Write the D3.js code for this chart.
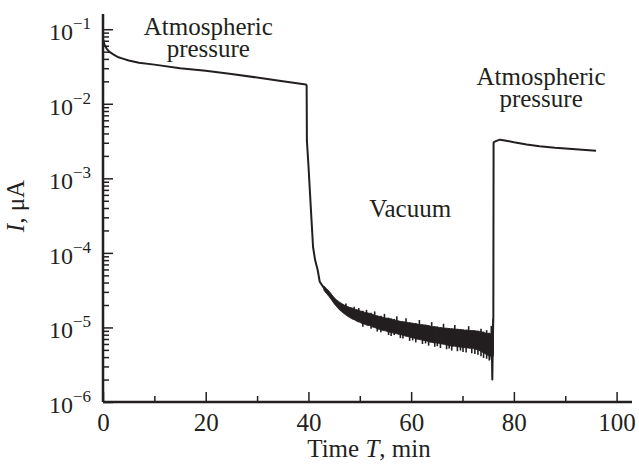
<!DOCTYPE html>
<html>
<head>
<meta charset="utf-8">
<script src="https://cdn.jsdelivr.net/npm/d3@7"></script>
<style>
  body { margin: 0; background: #fff; }
  text { font-family: "Liberation Serif", "Times New Roman", serif; fill: #231f20; }
</style>
</head>
<body>
<svg id="chart" width="639" height="464"></svg>
<script>

// main trace: time (min) and current (uA)
const time_main = [0, 0.3, 0.7, 1.2, 2, 3, 4, 5, 7, 10, 15, 20, 25, 30, 35, 39.5, 39.65,
                   39.7, 40.0, 40.3, 40.6, 40.9, 41.3, 41.8, 42.2, 43,
                   44, 46, 48, 50, 52, 54, 56, 58, 60, 62, 64, 66, 68, 70, 72, 74, 75.7,
                   75.8, 75.9, 76.0, 76.05, 76.1, 76.5, 77.3, 78.5, 80, 82.5, 85, 88, 92, 96];
const current_main = [0.074, 0.062, 0.055, 0.050, 0.046, 0.042, 0.040, 0.038, 0.0355, 0.0335, 0.030, 0.0278, 0.025, 0.0225, 0.020, 0.0182, 0.0176,
                      0.0032, 1.5e-3, 6.4e-4, 2.75e-4, 1.2e-4, 8.0e-5, 5.9e-5, 4.1e-5, 3.4e-5,
                      28.5e-6, 19.6e-6, 16.0e-6, 14.0e-6, 12.8e-6, 11.5e-6, 10.6e-6, 9.8e-6, 9.2e-6, 8.6e-6, 8.1e-6, 7.7e-6, 7.35e-6, 7.1e-6, 6.9e-6, 6.3e-6, 5.85e-6,
                      2.0e-6, 6.0e-6, 1.4e-5, 3.0e-3, 3.05e-3, 3.15e-3, 3.3e-3, 3.2e-3, 3.05e-3, 2.85e-3, 2.7e-3, 2.57e-3, 2.45e-3, 2.35e-3];

// noisy band in vacuum (upper / lower envelope, in 1e-6 uA)
const time_noise = [43, 43.5, 44, 44.5, 45, 45.5, 46, 46.5, 47, 47.5, 48, 48.5, 49, 49.5, 50, 50.5,
                    51, 51.5, 52, 52.5, 53, 53.5, 54, 54.5, 55, 55.5, 56, 56.5, 57, 57.5, 58, 58.5,
                    59, 59.5, 60, 60.5, 61, 61.5, 62, 62.5, 63, 63.5, 64, 64.5, 65, 65.5, 66, 66.5,
                    67, 67.5, 68, 68.5, 69, 69.5, 70, 70.5, 71, 71.5, 72, 72.5, 73, 73.5, 74, 74.5,
                    75, 75.5, 76];
const noise_hi = [36.0, 33.3, 30.8, 27.8, 25.2, 23.4, 22.0, 20.9, 20.0, 19.3, 18.6, 18.3, 17.6, 17.3, 16.7, 16.4,
                  15.9, 15.7, 15.4, 15.0, 14.5, 14.2, 14.0, 13.7, 13.4, 13.3, 13.0, 12.8, 12.5, 12.3, 12.0, 11.9,
                  11.8, 11.6, 11.5, 11.3, 11.2, 11.0, 10.9, 10.8, 10.7, 10.5, 10.3, 10.2, 10.1, 10.0, 9.9, 9.8,
                  9.7, 9.6, 9.6, 9.5, 9.4, 9.4, 9.3, 9.2, 9.2, 9.1, 9.1, 9.0, 8.9, 8.8, 8.6, 8.4,
                  8.3, 8.2, 8.2];
const noise_lo = [31.6, 28.6, 26.0, 23.4, 20.8, 19.0, 17.3, 16.2, 15.2, 14.3, 13.6, 13.0, 12.6, 12.0, 11.7, 11.2,
                  11.0, 10.6, 10.6, 10.1, 9.9, 9.5, 9.4, 9.1, 9.0, 8.7, 8.6, 8.4, 8.3, 8.1, 8.0, 7.8,
                  7.6, 7.5, 7.3, 7.2, 7.0, 6.9, 6.8, 6.7, 6.6, 6.4, 6.3, 6.2, 6.2, 6.1, 6.0, 5.9,
                  5.8, 5.7, 5.6, 5.6, 5.5, 5.45, 5.4, 5.35, 5.3, 5.25, 5.2, 5.1, 5.0, 4.8, 4.6, 4.4,
                  4.2, 4.1, 4.1];

// single noise spikes sticking out of the band (time, top, bottom in 1e-6 uA)
const spike_t = [47.3, 48.9, 49.8, 50.6, 51.3, 52.2, 52.9, 53.4, 54.1, 54.8, 55.6, 56.1, 56.7, 57.2, 57.9, 58.4,
                 59.0, 59.7, 60.3, 60.9, 61.6, 62.2, 62.8, 63.4, 64.0, 64.6, 65.1, 65.7, 66.3, 66.9, 67.4, 67.9,
                 68.5, 69.0, 69.6, 70.1, 70.7, 71.2, 71.8, 72.4, 73.0, 73.6, 74.1, 74.7, 75.2, 75.6, 75.95];
const spike_top = [21.0, 19.0, 18.2, 16.8, 17.2, 15.8, 16.4, 14.5, 14.3, 15.2, 13.5, 13.2, 13.0, 14.1, 12.2, 12.0,
                   13.3, 11.7, 11.5, 11.4, 12.6, 11.0, 10.9, 10.7, 11.8, 10.4, 10.3, 10.1, 11.2, 9.9, 9.8, 9.7,
                   10.8, 9.6, 9.5, 9.4, 9.3, 10.4, 9.2, 9.1, 9.0, 9.6, 8.8, 9.2, 8.5, 10.5, 13.0];
const spike_bottom = [15.5, 13.0, 12.5, 10.2, 11.5, 9.6, 11.0, 8.8, 8.6, 10.0, 7.9, 7.7, 7.9, 9.0, 7.2, 7.1,
                      8.2, 6.6, 6.7, 6.3, 7.8, 6.0, 6.1, 5.7, 7.2, 5.5, 5.6, 5.3, 6.8, 5.1, 5.2, 4.9,
                      6.4, 4.8, 4.9, 4.7, 4.6, 6.0, 4.5, 4.4, 4.3, 4.1, 3.9, 3.8, 3.6, 3.7, 4.5];

const x_major = [0, 20, 40, 60, 80, 100];
const x_minor = [10, 30, 50, 70, 90];
const y_decades = [-6, -5, -4, -3, -2, -1];

const notes = [
    {lines: ["Atmospheric", "pressure"], t: 20.5, v: 0.0835},
    {lines: ["Vacuum"], t: 59.8, v: 3.05e-4},
    {lines: ["Atmospheric", "pressure"], t: 85.3, v: 0.0179}
];

const svg = d3.select("#chart");
const ink = "#231f20";

const xScale = d3.scaleLinear().domain([0, 103]).range([103, 632]);
const yScale = d3.scaleLog().domain([1e-6, 0.16]).range([402, 14]);

// noise band
const band = d3.area()
               .x((d, i) => xScale(time_noise[i]))
               .y0((d, i) => yScale(noise_lo[i] * 1e-6))
               .y1((d, i) => yScale(noise_hi[i] * 1e-6));

svg.append("path")
   .datum(time_noise)
   .attr("d", band)
   .attr("fill", ink)
   .attr("stroke", ink)
   .attr("stroke-width", 0.8);

svg.selectAll(".spike")
   .data(spike_t)
   .enter()
   .append("line")
   .attr("class", "spike")
   .attr("x1", d => xScale(d))
   .attr("x2", d => xScale(d))
   .attr("y1", (d, i) => yScale(spike_top[i] * 1e-6))
   .attr("y2", (d, i) => yScale(spike_bottom[i] * 1e-6))
   .attr("stroke", ink)
   .attr("stroke-width", 1.6);

// main line
const line = d3.line()
               .x((d, i) => xScale(time_main[i]))
               .y((d, i) => yScale(current_main[i]));

svg.append("path")
   .datum(time_main)
   .attr("d", line)
   .attr("fill", "none")
   .attr("stroke", ink)
   .attr("stroke-width", 2)
   .attr("stroke-linejoin", "round");

// x axis
const gx = svg.append("g")
              .attr("transform", `translate(0,${yScale(1e-6)})`)
              .call(d3.axisBottom(xScale)
                      .tickValues(x_major)
                      .tickSizeInner(-10)
                      .tickSizeOuter(0)
                      .tickPadding(11)
                      .tickFormat(d3.format("d")));

svg.append("g")
   .attr("transform", `translate(0,${yScale(1e-6)})`)
   .call(d3.axisBottom(xScale).tickValues(x_minor).tickSizeInner(-6).tickSizeOuter(0).tickFormat(""))
   .select(".domain").remove();

gx.select(".domain").attr("stroke", ink).attr("stroke-width", 2.5)
  .attr("d", `M${xScale(0)},0H${xScale(103)}`);
gx.selectAll(".tick text")
  .attr("font-size", 25)
  .attr("fill", ink);

// y axis
let y_minor = [];
y_decades.forEach(e => {
    if (e < -1) d3.range(2, 10).forEach(k => y_minor.push(k * Math.pow(10, e)));
});

const gy = svg.append("g")
              .attr("transform", `translate(${xScale(0)},0)`)
              .call(d3.axisLeft(yScale)
                      .tickValues(y_decades.map(e => Math.pow(10, e)))
                      .tickSizeInner(-10)
                      .tickSizeOuter(0)
                      .tickFormat(""));

svg.append("g")
   .attr("transform", `translate(${xScale(0)},0)`)
   .call(d3.axisLeft(yScale).tickValues(y_minor).tickSizeInner(-6).tickSizeOuter(0).tickFormat(""))
   .select(".domain").remove();

gy.select(".domain").attr("stroke", ink).attr("stroke-width", 2.5)
  .attr("d", `M0,${yScale(0.16)}V${yScale(1e-6)}`);
svg.selectAll(".tick line").attr("stroke", ink).attr("stroke-width", 1.5);

// y tick labels, 10 with exponent
const ylab = svg.selectAll(".ylab")
                .data(y_decades)
                .enter()
                .append("text")
                .attr("class", "ylab")
                .attr("text-anchor", "end")
                .attr("x", 91)
                .attr("y", d => yScale(Math.pow(10, d)) + 11);

ylab.append("tspan").attr("font-size", 24).text("10");
ylab.append("tspan").attr("font-size", 17).attr("dy", -11).text(d => "\u2212" + (-d));

// axis titles
svg.append("text")
   .attr("x", 369)
   .attr("y", 457)
   .attr("text-anchor", "middle")
   .attr("font-size", 25)
   .html('Time <tspan font-style="italic">T</tspan>, min');

svg.append("text")
   .attr("transform", "translate(24,206) rotate(-90)")
   .attr("text-anchor", "middle")
   .attr("font-size", 25)
   .html('<tspan font-style="italic">I</tspan>, \u03bcA');

// annotations
notes.forEach(n => {
    const t = svg.append("text")
                 .attr("text-anchor", "middle")
                 .attr("font-size", 25)
                 .attr("x", xScale(n.t))
                 .attr("y", yScale(n.v));
    n.lines.forEach((s, i) => {
        t.append("tspan")
         .attr("x", xScale(n.t))
         .attr("dy", i == 0 ? 0 : 22)
         .text(s);
    });
});

</script>
</body>
</html>
